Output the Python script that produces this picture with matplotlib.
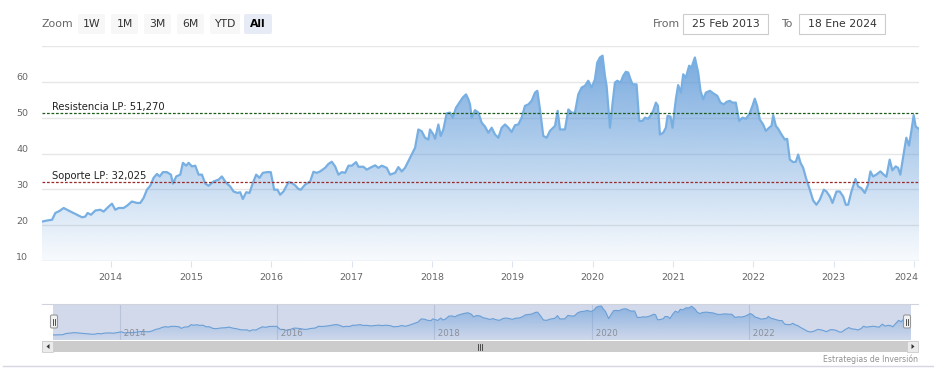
import numpy as np
import matplotlib
matplotlib.use('Agg')
import matplotlib.pyplot as plt
from matplotlib.patches import Rectangle, FancyBboxPatch, Polygon
from matplotlib.lines import Line2D
from matplotlib.transforms import Affine2D, ScaledTranslation, blended_transform_factory

# ---------------- data ----------------
years = [2013.146, 2013.209, 2013.271, 2013.312, 2013.366, 2013.416, 2013.457, 2013.519, 2013.582, 2013.644,
         2013.685, 2013.714, 2013.756, 2013.810, 2013.872, 2013.913, 2013.976, 2014.017, 2014.058, 2014.100,
         2014.162, 2014.203, 2014.265, 2014.328, 2014.369, 2014.411, 2014.452, 2014.494, 2014.535, 2014.577,
         2014.610, 2014.651, 2014.701, 2014.751, 2014.776, 2014.817, 2014.867, 2014.900, 2014.942, 2014.971,
         2015.012, 2015.054, 2015.095, 2015.137, 2015.178, 2015.220, 2015.282, 2015.344, 2015.385, 2015.439,
         2015.489, 2015.530, 2015.580, 2015.613, 2015.646, 2015.688, 2015.729, 2015.771, 2015.812, 2015.853,
         2015.895, 2015.945, 2015.994, 2016.036, 2016.077, 2016.110, 2016.152, 2016.214, 2016.255, 2016.297,
         2016.338, 2016.367, 2016.421, 2016.484, 2016.525, 2016.567, 2016.608, 2016.670, 2016.712, 2016.753,
         2016.795, 2016.836, 2016.878, 2016.919, 2016.961, 2017.002, 2017.056, 2017.085, 2017.147, 2017.189,
         2017.230, 2017.292, 2017.334, 2017.375, 2017.437, 2017.479, 2017.541, 2017.582, 2017.624, 2017.665,
         2017.707, 2017.748, 2017.790, 2017.831, 2017.873, 2017.914, 2017.955, 2017.976, 2018.018, 2018.039,
         2018.080, 2018.109, 2018.142, 2018.184, 2018.226, 2018.259, 2018.300, 2018.341, 2018.383, 2018.424,
         2018.454,
         2018.474, 2018.495, 2018.536, 2018.578, 2018.619, 2018.661, 2018.702, 2018.744, 2018.785, 2018.827,
         2018.868, 2018.910, 2018.951, 2018.992, 2019.034, 2019.075, 2019.117, 2019.158, 2019.200, 2019.241,
         2019.283, 2019.312, 2019.345, 2019.386, 2019.428, 2019.469, 2019.532, 2019.565, 2019.594, 2019.656,
         2019.698, 2019.739, 2019.780, 2019.822, 2019.863, 2019.905, 2019.946, 2019.988, 2020.029, 2020.058,
         2020.091, 2020.124, 2020.153, 2020.174, 2020.216, 2020.245, 2020.278, 2020.307, 2020.348, 2020.381,
         2020.414, 2020.443, 2020.472, 2020.497, 2020.547, 2020.580, 2020.622, 2020.651, 2020.692, 2020.725,
         2020.754, 2020.788, 2020.813, 2020.838, 2020.879, 2020.912, 2020.933, 2020.970, 2020.995, 2021.036,
         2021.065, 2021.099, 2021.128, 2021.161, 2021.202, 2021.231, 2021.273, 2021.314, 2021.343, 2021.377,
         2021.410, 2021.460, 2021.509, 2021.551, 2021.592, 2021.634, 2021.667, 2021.708, 2021.741, 2021.783,
         2021.824, 2021.866, 2021.907, 2021.949, 2021.990, 2022.019, 2022.048, 2022.081, 2022.123, 2022.156,
         2022.198, 2022.227, 2022.248, 2022.281, 2022.310, 2022.351, 2022.393, 2022.422, 2022.455, 2022.496,
         2022.530, 2022.559, 2022.588, 2022.621, 2022.662, 2022.704, 2022.745, 2022.786, 2022.828, 2022.878,
         2022.911, 2022.953, 2022.986, 2023.036, 2023.077, 2023.119, 2023.152, 2023.181, 2023.222, 2023.272,
         2023.305, 2023.346, 2023.388, 2023.429, 2023.458, 2023.491, 2023.532, 2023.582, 2023.624, 2023.657,
         2023.698, 2023.731, 2023.773, 2023.802, 2023.831, 2023.864, 2023.905, 2023.939, 2023.968, 2023.997,
         2024.022, 2024.063]

prices = [21.0, 21.3, 21.5, 23.4, 24.0, 24.8, 24.3, 23.6, 22.9, 22.2,
          22.4, 23.4, 22.9, 24.1, 24.3, 23.8, 25.2, 26.0, 24.3, 24.8,
          24.8, 25.4, 26.6, 26.2, 26.2, 27.6, 29.9, 31.0, 33.2, 34.3,
          33.6, 34.8, 34.8, 34.1, 31.6, 33.6, 34.1, 37.4, 36.6, 37.4,
          36.4, 36.6, 34.1, 34.1, 31.6, 31.0, 32.2, 32.7, 33.6, 31.8,
          30.8, 29.4, 29.0, 29.2, 27.3, 29.2, 29.0, 31.8, 34.1, 33.2,
          34.6, 34.8, 34.8, 29.9, 29.9, 28.5, 29.4, 32.0, 31.8, 31.1,
          30.1, 29.9, 31.3, 32.2, 34.9, 34.6, 35.0, 36.0, 37.1, 37.7,
          36.4, 34.1, 34.8, 34.6, 36.6, 36.6, 37.6, 36.3, 36.3, 35.5,
          36.0, 36.7, 36.0, 36.6, 36.0, 34.1, 34.6, 36.2, 35.0, 36.0,
          37.9, 39.7, 41.6, 46.7, 46.2, 44.4, 43.9, 46.7, 45.3, 44.1,
          48.1, 44.9, 46.7, 51.2, 51.4, 50.0, 52.8, 54.2, 55.6, 56.5,
          55.1,
          53.7, 50.0, 52.1, 51.4, 48.6, 47.5, 45.8, 47.2, 45.3, 44.4,
          47.2, 48.1, 47.2, 46.0, 47.9, 48.1, 50.0, 53.3, 53.7, 54.7,
          57.0, 57.5, 52.3, 44.9, 44.4, 46.3, 47.7, 51.9, 46.7, 46.7,
          52.3, 51.4, 51.4, 56.5, 58.4, 58.9, 60.3, 58.4, 60.7, 65.4,
          66.8, 67.3, 61.7, 58.9, 47.2, 53.3, 59.8, 60.3, 59.8, 61.7,
          62.8, 62.6, 60.7, 59.3, 59.3, 49.1, 49.1, 50.0, 49.7, 50.7,
          51.9, 54.2, 53.3, 45.3, 45.8, 47.2, 50.5, 50.3, 47.2, 55.1,
          59.1, 57.0, 62.1, 61.2, 64.5, 64.0, 66.8, 62.6, 57.5, 55.1,
          57.0, 57.5, 56.7, 56.1, 54.2, 53.7, 54.4, 54.7, 54.2, 54.2,
          49.1, 50.0, 49.7, 50.9, 53.3, 55.3, 53.3, 49.5, 48.1, 46.3,
          47.2, 47.7, 50.7, 47.7, 46.9, 45.3, 43.9, 44.1, 38.3, 37.6,
          37.7, 39.7, 37.4, 36.0, 32.7, 29.9, 26.9, 25.7, 27.1, 29.9,
          29.4, 28.0, 26.2, 29.4, 29.4, 28.0, 25.7, 25.7, 29.4, 32.9,
          30.8, 30.3, 29.0, 31.3, 35.0, 33.6, 34.1, 35.0, 34.1, 33.5,
          38.3, 35.3, 36.4, 36.0, 34.1, 38.8, 44.4, 42.2, 46.3, 50.7,
          47.5, 46.9]

resistance = 51.27
support = 32.025
resistance_label = 'Resistencia LP: 51,270'
support_label = 'Soporte LP: 32,025'
x_tick_years = list(range(2014, 2025))
y_tick_values = [10, 20, 30, 40, 50, 60, 70]
nav_tick_years = [2014, 2016, 2018, 2020, 2022]
zoom_buttons = ['1W', '1M', '3M', '6M', 'YTD', 'All']
from_date = '25 Feb 2013'
to_date = '18 Ene 2024'
credit = 'Estrategias de Inversión'

n = min(len(years), len(prices))
years = np.array(years[:n])
prices = np.array(prices[:n])

# ---------------- figure ----------------
W, H = 934, 380
fig = plt.figure(figsize=(W / 100, H / 100), dpi=100)
pix = Affine2D().scale(1 / W, -1 / H).translate(0, 1) + fig.transFigure


def rect(x0, y0, x1, y1):
    return [x0 / W, 1 - y1 / H, (x1 - x0) / W, (y1 - y0) / H]


LINE_C = '#78afe2'
FILL_RGB = np.array([92, 152, 216]) / 255.0
GRID_C = '#e6e6e6'
LABEL_C = '#666666'

# ---------------- main chart ----------------
ax = fig.add_axes(rect(42, 46, 919, 261))
ax.set_xlim(years[0], years[-1])
ax.set_ylim(10, 70)
for s in ax.spines.values():
    s.set_visible(False)

for v in y_tick_values[1:]:
    ax.axhline(v, color=GRID_C, lw=1.0, zorder=0)
ax.axhline(10, color='#ccd6eb', lw=1.0, zorder=4)

# gradient fill under the series
grad = np.zeros((256, 1, 4))
t = np.linspace(0, 1, 256)
grad[:, 0, :3] = FILL_RGB
grad[:, 0, 3] = 0.04 + 0.82 * t
im = ax.imshow(grad, extent=[years[0], years[-1], 10, 70], origin='lower',
               aspect='auto', zorder=1, interpolation='bilinear')
verts = list(zip(years, prices)) + [(years[-1], 10), (years[0], 10)]
clip = Polygon(verts, closed=True, facecolor='none', edgecolor='none', transform=ax.transData)
ax.add_patch(clip)
im.set_clip_path(clip)
ax.plot(years, prices, color=LINE_C, lw=1.6, zorder=3, solid_joinstyle='round')
ax.set_xlim(years[0], years[-1])
ax.set_ylim(10, 70)

# support / resistance
ax.axhline(resistance, color='#1d5e1d', lw=0.9, ls=(0, (2.2, 1.4)), zorder=5)
ax.axhline(support, color='#9b2a2a', lw=0.9, ls=(0, (2.2, 1.4)), zorder=5)
tr = blended_transform_factory(ax.transAxes, ax.transData)
ax.text(10 / 877, resistance, resistance_label, transform=tr + ScaledTranslation(0, 1 / 100, fig.dpi_scale_trans),
        fontsize=7.2, color='#222222', va='bottom', ha='left', zorder=6)
ax.text(10 / 877, support, support_label, transform=tr + ScaledTranslation(0, 1 / 100, fig.dpi_scale_trans),
        fontsize=7.2, color='#222222', va='bottom', ha='left', zorder=6)

# axes ticks
ax.set_yticks(y_tick_values)
ax.set_yticklabels([str(v) if v < 70 else '' for v in y_tick_values])
ax.tick_params(axis='y', length=0, pad=10, labelsize=6.8, labelcolor=LABEL_C)
for lab in ax.get_yticklabels():
    lab.set_transform(lab.get_transform() + ScaledTranslation(0, 5 / 100, fig.dpi_scale_trans))
ax.set_xticks(x_tick_years)
ax.set_xticklabels([str(y) for y in x_tick_years])
ax.tick_params(axis='x', length=4, width=0.8, color='#dde3ef', pad=5, labelsize=6.8, labelcolor=LABEL_C)
last = ax.get_xticklabels()[-1]
last.set_transform(last.get_transform() + ScaledTranslation(-8 / 100, 0, fig.dpi_scale_trans))

# ---------------- navigator ----------------
nav = fig.add_axes(rect(53, 304, 911, 340))
nav.set_facecolor((0.82, 0.85, 0.92))
nav.set_xlim(years[0], years[-1])
nav.set_ylim(13, 70.5)
for s in nav.spines.values():
    s.set_visible(False)
nav.set_xticks([])
nav.set_yticks([])
for y in nav_tick_years:
    nav.axvline(y, color='#b9c3da', lw=0.8, zorder=1)
    nav.text(y, 13, ' ' + str(y), transform=nav.transData + ScaledTranslation(1 / 100, 2 / 100, fig.dpi_scale_trans),
             fontsize=6.2, color='#8a8f9a', ha='left', va='bottom', zorder=5)
ngrad = np.zeros((256, 1, 4))
ngrad[:, 0, :3] = FILL_RGB
ngrad[:, 0, 3] = 0.02 + 0.6 * t
nim = nav.imshow(ngrad, extent=[years[0], years[-1], 13, 70.5], origin='lower', aspect='auto',
                 zorder=2, interpolation='bilinear')
nclip = Polygon(list(zip(years, prices)) + [(years[-1], 13), (years[0], 13)], closed=True,
                facecolor='none', edgecolor='none', transform=nav.transData)
nav.add_patch(nclip)
nim.set_clip_path(nclip)
nav.plot(years, prices, color='#6b9fd6', lw=0.8, zorder=3)
nav.set_xlim(years[0], years[-1])
nav.set_ylim(13, 70.5)

# navigator outline & handles
fig.add_artist(Line2D([42, 918], [304, 304], color='#cfd3dc', lw=0.8, transform=pix))
for hx in (54, 907):
    fig.add_artist(FancyBboxPatch((hx - 3.5, 315), 7, 13, boxstyle='round,pad=0,rounding_size=1.5',
                                  facecolor='#f2f2f2', edgecolor='#999999', lw=0.8, transform=pix, zorder=10))
    for dx in (-1, 1):
        fig.add_artist(Line2D([hx + dx, hx + dx], [318.5, 324.5], color='#333333', lw=0.6, transform=pix, zorder=11))

# scrollbar
fig.add_artist(Rectangle((42, 341), 876, 11, facecolor='#cccccc', edgecolor='none', transform=pix))
for bx in (42, 907):
    fig.add_artist(Rectangle((bx, 341), 11, 11, facecolor='#ebebeb', edgecolor='#cccccc', lw=0.6, transform=pix))
fig.add_artist(Polygon([(49.5, 344), (49.5, 349), (46.5, 346.5)], closed=True, facecolor='#333333',
                       edgecolor='none', transform=pix))
fig.add_artist(Polygon([(911.5, 344), (911.5, 349), (914.5, 346.5)], closed=True, facecolor='#333333',
                       edgecolor='none', transform=pix))
for gx in (478, 480, 482):
    fig.add_artist(Line2D([gx, gx], [343.5, 349.5], color='#333333', lw=0.6, transform=pix))

fig.text(918 / W, 1 - 359 / H, credit, ha='right', va='center', fontsize=5.6, color='#909090')
fig.add_artist(Line2D([3, 934], [366, 366], color='#d6d6e4', lw=1.0, transform=pix))

# ---------------- toolbar ----------------
fig.text(42 / W, 1 - 24 / H, 'Zoom', ha='left', va='center', fontsize=7.8, color='#666666')
btn_x = [78, 111, 144, 177, 210, 244]
btn_w = [27, 27, 27, 27, 30, 28]
for lab, bx, bw in zip(zoom_buttons, btn_x, btn_w):
    sel = lab == 'All'
    fig.add_artist(FancyBboxPatch((bx, 14), bw, 20, boxstyle='round,pad=0,rounding_size=2',
                                  facecolor='#e6ebf5' if sel else '#f7f7f7', edgecolor='none', transform=pix))
    fig.text((bx + bw / 2) / W, 1 - 24 / H, lab, ha='center', va='center', fontsize=7.8,
             color='#000000' if sel else '#333333', fontweight='bold' if sel else 'normal')

fig.text(666 / W, 1 - 24 / H, 'From', ha='center', va='center', fontsize=7.8, color='#666666')
fig.add_artist(Rectangle((683, 14), 85, 20, facecolor='white', edgecolor='#cccccc', lw=0.8, transform=pix))
fig.text(725.5 / W, 1 - 24 / H, from_date, ha='center', va='center', fontsize=7.8, color='#333333')
fig.text(787 / W, 1 - 24 / H, 'To', ha='center', va='center', fontsize=7.8, color='#666666')
fig.add_artist(Rectangle((799, 14), 86, 20, facecolor='white', edgecolor='#cccccc', lw=0.8, transform=pix))
fig.text(842 / W, 1 - 24 / H, to_date, ha='center', va='center', fontsize=7.8, color='#333333')

fig.savefig('out.png', dpi=100)
